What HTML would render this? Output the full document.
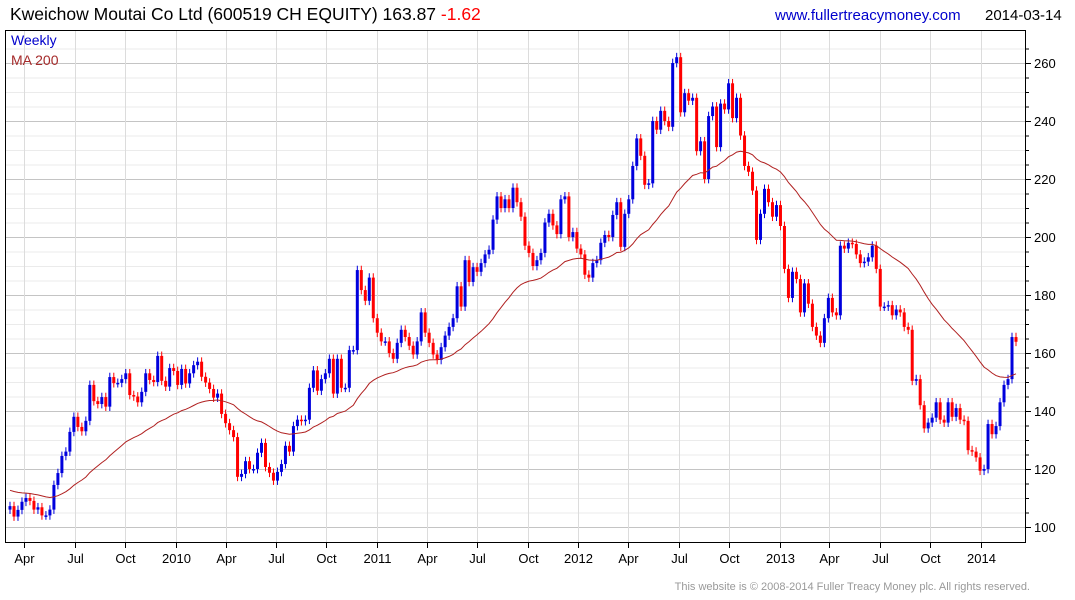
<!DOCTYPE html>
<html><head><meta charset="utf-8">
<style>
body{margin:0;background:#fff;width:1075px;height:600px;overflow:hidden;font-family:"Liberation Sans",Arial,sans-serif}
svg{display:block}
</style></head>
<body>
<svg id="chart" width="1075" height="600" viewBox="0 0 1075 600" xmlns="http://www.w3.org/2000/svg" font-family="Liberation Sans, Arial, sans-serif">
<text x="10" y="20" font-size="17.5" fill="#000">Kweichow Moutai Co Ltd (600519 CH EQUITY) 163.87 <tspan fill="#ff0000">-1.62</tspan></text>
<text x="775" y="20" font-size="15" fill="#0000cc">www.fullertreacymoney.com</text>
<text x="985" y="20" font-size="15" fill="#000">2014-03-14</text>
<g id="grid"></g>
<g id="candles"></g>
<path id="ma" fill="none" stroke="#b02020" stroke-width="1"/>
<rect x="5.5" y="30.5" width="1020" height="512" fill="none" stroke="#000" stroke-width="1"/>
<g id="axes"></g>
<text x="11" y="45" font-size="14" fill="#0000cc">Weekly</text>
<text x="11" y="65" font-size="14" fill="#a52a2a">MA 200</text>
<text x="1030" y="590" font-size="11" fill="#999" text-anchor="end">This website is © 2008-2014 Fuller Treacy Money plc. All rights reserved.</text>
</svg>
<script>
const closes = [107.2,103.6,105.9,108.7,110,109,106,106.8,104,104,
106,114.5,118.6,124.5,126,132.8,138,134.5,133,136.6,
149,143.4,142.4,144.8,141.5,151.7,149.6,149.7,151,153,
145.5,145,143,146.6,153,150.7,150,159,150.4,148.4,
154.8,153.8,149,154.5,149.5,153,155.8,157,151.8,149.8,
147.6,144.6,146,139,135.8,133.4,131,117.3,118.3,122.7,
120,120,125.6,129,
120.7,118.7,116,119,121.7,128,126,134.8,137,136.5,
137,148,154,147,151,153,158,146,158,148,
148,161,161,188.6,181.7,178,186,172,167,164,
164,160,158,163.5,168,165.5,162.5,159.5,164,174,
167,163.5,159.5,157.6,162,166,169,172,183,176,
192,184.5,189.6,188,191,194,195.6,206,214,210,213,
210,217,212,207,197,194.5,190,192,194.5,205,
208,204,201,213,214,200,201.7,196,194,187,
186,191,192,198,200.7,200,207.6,212,196.6,208,
213,224.5,234,228,218,218.5,240,237,243.5,240,
238,260,262,243,249.6,247,248,229.6,233,220,
241.7,245,231,246,244,253,241,248,235,224.5,
222.5,216,199,208,216.6,212,207,211,203.8,189,
179,188,185.5,174,184,177,169,166,163.5,172,
179,174,173,197,196,198,197.6,194,191,191.5,
193,197,189,176,176,176.5,173,175,174,169,
168,150.4,151,142,134,136,137.7,143,137,136,
143,138,141,137,136.6,126.5,126,124,119.4,120,
135.5,132,134.8,143,149,151,165.5,163.87];
const priorCloses = [125,124,126,123,121,122,120,119,121,118,117,118,116,115,116,114,113,114,112,111,112,110,109,110,108,109,107,108,106,107,108,106,105,107,106,104,105,107,106];
const firstOpen = 106;
const yTicks = [100,120,140,160,180,200,220,240,260];
const xTickLabels = ["Apr","Jul","Oct","2010","Apr","Jul","Oct","2011","Apr","Jul","Oct","2012","Apr","Jul","Oct","2013","Apr","Jul","Oct","2014"];
const xTickDates = ["2009-04-01","2009-07-01","2009-10-01","2010-01-01","2010-04-01","2010-07-01","2010-10-01","2011-01-01","2011-04-01","2011-07-01","2011-10-01","2012-01-01","2012-04-01","2012-07-01","2012-10-01","2013-01-01","2013-04-01","2013-07-01","2013-10-01","2014-01-01"];
const maWindow = 40;

const NS="http://www.w3.org/2000/svg";
function yS(v){return 527-(v-100)*2.9;}
const N=closes.length;
function xS(i){return 10+i*(1016-10)/(N-1);}
const d0=Date.parse("2009-03-01");
function xD(s){return 7.4+(Date.parse(s)-d0)/86400000*0.551;}
function mk(tag,attrs,parent){const e=document.createElementNS(NS,tag);for(const k in attrs)e.setAttribute(k,attrs[k]);parent.appendChild(e);return e;}

const grid=document.getElementById('grid');
for(let v=100;v<=265;v+=5){
  const major=(v%20===0);
  const l=mk('line',{x1:6,x2:1025,y1:yS(v)+0.5,y2:yS(v)+0.5,stroke:major?'#c4c4c4':'#ebebeb','stroke-width':1},grid);
  
  
}
xTickDates.forEach((d,i)=>{
  const x=Math.round(xD(d))+0.5;
  const l=mk('line',{x1:x,x2:x,y1:31,y2:542,stroke:'#dcdcdc','stroke-width':1},grid);
  
  
});

const axes=document.getElementById('axes');
for(let v=100;v<=265;v+=5){
  const t=mk('line',{x1:1026,x2:v%20===0?1031:1029,y1:yS(v)+0.5,y2:yS(v)+0.5,stroke:'#000'},axes);
  
  
}
yTicks.forEach(v=>{
  const t=mk('text',{x:1034,y:yS(v)+5,'font-size':13,fill:'#000'},axes);
  t.textContent=v;
  
  
});
xTickDates.forEach((d,i)=>{
  const x=Math.round(xD(d))+0.5;
  const t=mk('line',{x1:x,x2:x,y1:543,y2:548,stroke:'#000'},axes);
  
  
  const tx=mk('text',{x:x,y:563,'font-size':13,fill:'#000','text-anchor':'middle'},axes);
  tx.textContent=xTickLabels[i];
  
  
});

const cg=document.getElementById('candles');
for(let i=0;i<N;i++){
  const o=i===0?firstOpen:closes[i-1], c=closes[i];
  const up=c>=o, col=up?'#0000dd':'#ff0000';
  const hi=Math.max(o,c)+1.5, lo=Math.min(o,c)-1.5;
  const x=xS(i);
  const w=mk('line',{x1:x,x2:x,y1:yS(hi),y2:yS(lo),stroke:col,'stroke-width':1},cg);
  
  
  const top=yS(Math.max(o,c)), h=Math.max(1.5,yS(Math.min(o,c))-top);
  const b=mk('rect',{x:x-1.5,y:top,width:3,height:h,fill:col},cg);
  
  
}

// exponential-style smoothing of the weekly closes (approximates the 200-day average)
const alpha=2/(maWindow+1);
let ema=priorCloses.reduce((a,b)=>a+b,0)/priorCloses.length;
let pts=[];
for(let i=0;i<N;i++){
  ema=ema+alpha*(closes[i]-ema);
  pts.push((i?'L':'M')+xS(i).toFixed(1)+','+yS(ema).toFixed(1));
}
document.getElementById('ma').setAttribute('d',pts.join(''));
</script>
</body></html>
